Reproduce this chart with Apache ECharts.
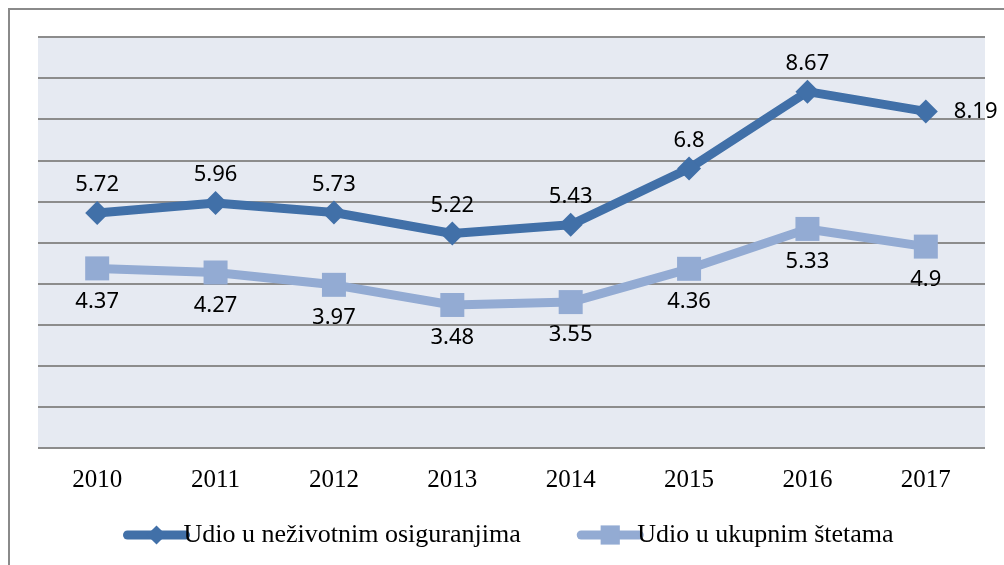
<!DOCTYPE html>
<html>
<head>
<meta charset="utf-8">
<script src="https://cdn.jsdelivr.net/npm/echarts@6/dist/echarts.min.js"></script>
<style>
  html, body { margin: 0; padding: 0; background: #fff; }
  #chart { width: 1004px; height: 565px; }
</style>
</head>
<body>
<div id="chart"></div>
<script>
// categories and values
var years = ['2010', '2011', '2012', '2013', '2014', '2015', '2016', '2017'];
var neZivot = [5.72, 5.96, 5.73, 5.22, 5.43, 6.8, 8.67, 8.19];
var ukupno = [4.37, 4.27, 3.97, 3.48, 3.55, 4.36, 5.33, 4.9];
var seriesNames = ['Udio u neživotnim osiguranjima', 'Udio u ukupnim štetama'];

var labelFont = { fontFamily: 'Noto Sans', fontSize: 22, color: '#000' };

// last point of the dark line has its label on the right
var neZivotData = neZivot.map(function (v, i) {
  if (i === neZivot.length - 1) {
    return { value: v, label: { position: 'right', distance: 16 } };
  }
  return v;
});

var chart = echarts.init(document.getElementById('chart'));

chart.setOption({
  backgroundColor: '#ffffff',
  animation: false,
  graphic: [{
    type: 'rect',
    shape: { x: 9, y: 9, width: 1010, height: 580 },
    style: { fill: 'none', stroke: '#8a8a8a', lineWidth: 2 },
    silent: true
  }],
  legend: {
    bottom: 12,
    left: 118,
    itemWidth: 58,
    itemHeight: 24,
    itemGap: 56,
    data: seriesNames,
    lineStyle: { width: 9, cap: 'round' },
    textStyle: {
      fontFamily: 'Liberation Serif',
      fontSize: 26,
      color: '#000',
      padding: [0, 0, 0, -7]
    }
  },
  grid: {
    left: 38,
    right: 19,
    top: 37,
    bottom: 117,
    show: true,
    backgroundColor: '#e6eaf2',
    borderWidth: 0
  },
  xAxis: {
    type: 'category',
    data: years,
    boundaryGap: true,
    axisLine: { show: false },
    axisTick: { show: false },
    axisLabel: {
      margin: 20,
      fontFamily: 'Liberation Serif',
      fontSize: 25,
      color: '#000'
    }
  },
  yAxis: {
    type: 'value',
    min: 0,
    max: 10,
    interval: 1,
    axisLine: { show: false },
    axisTick: { show: false },
    axisLabel: { show: false },
    splitLine: {
      lineStyle: { color: '#8c8c8c', width: 2 }
    }
  },
  series: [{
    name: seriesNames[0],
    type: 'line',
    data: neZivotData,
    symbol: 'diamond',
    symbolSize: 24,
    lineStyle: { width: 9, color: '#4170a8' },
    itemStyle: { color: '#4170a8' },
    z: 3,
    label: Object.assign({ show: true, position: 'top', distance: 5 }, labelFont)
  }, {
    name: seriesNames[1],
    type: 'line',
    data: ukupno,
    symbol: 'rect',
    symbolSize: 24,
    lineStyle: { width: 9, color: '#93abd3' },
    itemStyle: { color: '#93abd3' },
    z: 2,
    label: Object.assign({ show: true, position: 'bottom', distance: 10 }, labelFont)
  }]
});
</script>
</body>
</html>
